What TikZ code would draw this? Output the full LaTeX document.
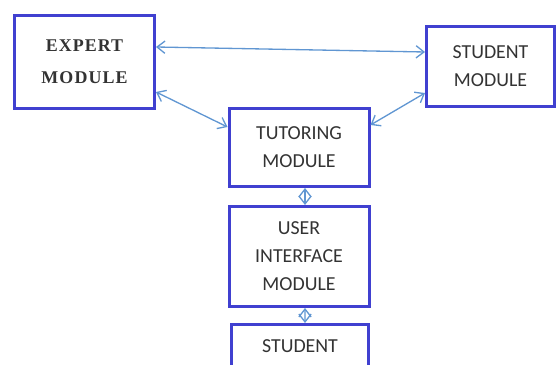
\documentclass[tikz,border=0pt]{standalone}
\usepackage{fontspec}
\setmainfont{Carlito}
\newfontfamily\expertfont[LetterSpace=6]{Liberation Serif}
\usetikzlibrary{arrows.meta}
\definecolor{rahmen}{RGB}{64,64,208}
\definecolor{pfeilblau}{RGB}{96,150,210}
\begin{document}
\begin{tikzpicture}[thick,>={Straight Barb[length=4.5pt,width=7pt]}]
\def\ds{0.02}
\def\punkt#1#2{({(#1)*\ds},{-(#2)*\ds})}
\tikzset{
	modul/.style={draw=rahmen,line width=1.7pt,fill=white,align=center,inner sep=0pt,
		text=black!80,font=\fontsize{11.3}{15.9}\selectfont},
	pfeil/.style={<->,draw=pfeilblau,line width=0.75pt}
}
\clip \punkt{0}{0} rectangle \punkt{558}{365};
% Kaesten
\node[modul,minimum width={140*\ds cm},minimum height={93*\ds cm},
	font=\expertfont\bfseries\fontsize{10.2}{18.1}\selectfont] (expert) at \punkt{84.5}{62} {EXPERT\\MODULE};
\node[modul,minimum width={128*\ds cm},minimum height={80*\ds cm}] (studmod) at \punkt{490.5}{66.5} {STUDENT\\MODULE};
\node[modul,minimum width={140*\ds cm},minimum height={78*\ds cm}] (tutor) at \punkt{299}{147.5} {TUTORING\\MODULE};
\node[modul,minimum width={140*\ds cm},minimum height={100*\ds cm}] (ui) at \punkt{299}{256.5} {USER\\INTERFACE\\MODULE};
\node[modul,anchor=north,minimum width={137*\ds cm},text height=16.2pt,text depth=25pt] (lernender) at \punkt{300}{323} {STUDENT};
% Pfeile
\draw[pfeil] ([yshift={15*\ds cm}]expert.east) -- ([yshift={14.5*\ds cm}]studmod.west);
\draw[pfeil] ([yshift={-30*\ds cm}]expert.east) -- ([yshift={20.5*\ds cm}]tutor.west);
\draw[pfeil] ([yshift={-26.5*\ds cm}]studmod.west) -- ([yshift={22.5*\ds cm}]tutor.east);
\draw[pfeil] ([xshift={6*\ds cm}]tutor.south) -- ([xshift={6*\ds cm}]ui.north);
\draw[pfeil] ([xshift={6*\ds cm}]ui.south) -- ([xshift={5*\ds cm}]lernender.north);
\end{tikzpicture}
\end{document}
